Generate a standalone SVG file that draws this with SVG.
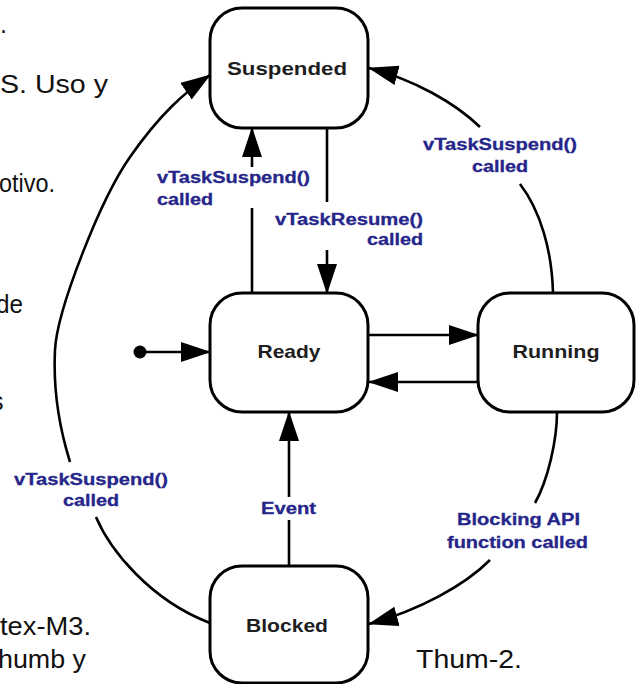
<svg xmlns="http://www.w3.org/2000/svg" width="636" height="684" viewBox="0 0 636 684">
  <style>
    .bg { font-family: "Liberation Sans", Arial, sans-serif; font-size: 25px; fill: #111; }
    .state rect { fill: #fff; stroke: #000; stroke-width: 3; }
    .state text { font-family: "Liberation Sans", Arial, sans-serif; font-weight: bold; font-size: 19px; fill: #1e1e1e; text-anchor: middle; }
    .edge { fill: none; stroke: #000; stroke-width: 2.6; }
    .lbl { font-family: "Liberation Sans", Arial, sans-serif; font-weight: bold; font-size: 16px; fill: #26268a; stroke: #26268a; stroke-width: 0.3; }
  </style>
  <defs>
    <marker id="head" markerUnits="userSpaceOnUse" markerWidth="32" markerHeight="22" refX="29" refY="10" orient="auto">
      <path d="M0,0 L30,10 L0,20 z" fill="#000"/>
    </marker>
  </defs>

  <rect width="636" height="684" fill="#fff"/>

  <!-- slide text behind the diagram -->
  <g id="slide-text">
    <text class="bg" x="0" y="33">.</text>
    <text class="bg" x="0" y="93" textLength="108" lengthAdjust="spacingAndGlyphs">S. Uso y</text>
    <text class="bg" x="-1" y="192" textLength="56" lengthAdjust="spacingAndGlyphs">otivo.</text>
    <text class="bg" x="-4" y="313" textLength="27" lengthAdjust="spacingAndGlyphs">de</text>
    <text class="bg" x="-9" y="410">s</text>
    <text class="bg" x="0" y="635" textLength="91" lengthAdjust="spacingAndGlyphs">tex-M3.</text>
    <text class="bg" x="-2" y="668" textLength="88" lengthAdjust="spacingAndGlyphs">humb y</text>
    <text class="bg" x="416" y="668" textLength="106" lengthAdjust="spacingAndGlyphs">Thum-2.</text>
  </g>

  <!-- transitions -->
  <g id="connectors">
    <!-- initial pseudo-state -->
    <circle cx="140" cy="352" r="6.5" fill="#000"/>
    <path class="edge" d="M140,352 L210,352" marker-end="url(#head)"/>

    <!-- Ready <-> Running -->
    <path class="edge" d="M369,335 L478,335" marker-end="url(#head)"/>
    <path class="edge" d="M478,382 L369,382" marker-end="url(#head)"/>

    <!-- Ready -> Suspended -->
    <path class="edge" d="M252,293 L252,208"/>
    <path class="edge" d="M252,167 L252,128" marker-end="url(#head)"/>
    <text class="lbl" x="157" y="183" textLength="153" lengthAdjust="spacingAndGlyphs">vTaskSuspend()</text>
    <text class="lbl" x="157" y="205" textLength="56" lengthAdjust="spacingAndGlyphs">called</text>

    <!-- Suspended -> Ready -->
    <path class="edge" d="M327,128 L327,202"/>
    <path class="edge" d="M327,250 L327,293" marker-end="url(#head)"/>
    <text class="lbl" x="275" y="225" textLength="148" lengthAdjust="spacingAndGlyphs">vTaskResume()</text>
    <text class="lbl" x="367" y="245" textLength="56" lengthAdjust="spacingAndGlyphs">called</text>

    <!-- Running -> Suspended -->
    <path class="edge" d="M553,293 C552,250 540,210 520,184"/>
    <path class="edge" d="M480,127 C455,103 415,80 369,68" marker-end="url(#head)"/>
    <text class="lbl" x="423" y="150" textLength="154" lengthAdjust="spacingAndGlyphs">vTaskSuspend()</text>
    <text class="lbl" x="472" y="172" textLength="56" lengthAdjust="spacingAndGlyphs">called</text>

    <!-- Running -> Blocked -->
    <path class="edge" d="M557,412 C557,440 548,480 535,503"/>
    <path class="edge" d="M490,560 C465,585 420,610 369,624" marker-end="url(#head)"/>
    <text class="lbl" x="457" y="525" textLength="123" lengthAdjust="spacingAndGlyphs">Blocking API</text>
    <text class="lbl" x="447" y="548" textLength="141" lengthAdjust="spacingAndGlyphs">function called</text>

    <!-- Blocked -> Ready -->
    <path class="edge" d="M289,566 L289,520"/>
    <path class="edge" d="M289,497 L289,412" marker-end="url(#head)"/>
    <text class="lbl" x="261" y="514" textLength="55" lengthAdjust="spacingAndGlyphs">Event</text>

    <!-- Blocked -> Suspended -->
    <path class="edge" d="M210,623 C150,600 110,550 96,517"/>
    <path class="edge" d="M70,462 C60,430 53,390 55,350 C57,310 100,200 130,157 C160,114 185,92 210,75" marker-end="url(#head)"/>
    <text class="lbl" x="14" y="485" textLength="154" lengthAdjust="spacingAndGlyphs">vTaskSuspend()</text>
    <text class="lbl" x="63" y="506" textLength="56" lengthAdjust="spacingAndGlyphs">called</text>
  </g>

  <!-- states -->
  <g id="suspended" class="state">
    <rect x="210" y="8" width="158" height="120" rx="32"/>
    <text x="287" y="75" textLength="120" lengthAdjust="spacingAndGlyphs">Suspended</text>
  </g>
  <g id="ready" class="state">
    <rect x="210" y="293" width="158" height="119" rx="32"/>
    <text x="289" y="358" textLength="63" lengthAdjust="spacingAndGlyphs">Ready</text>
  </g>
  <g id="running" class="state">
    <rect x="478" y="293" width="156" height="119" rx="32"/>
    <text x="556" y="358" textLength="87" lengthAdjust="spacingAndGlyphs">Running</text>
  </g>
  <g id="blocked" class="state">
    <rect x="210" y="566" width="158" height="117" rx="32"/>
    <text x="287" y="632" textLength="82" lengthAdjust="spacingAndGlyphs">Blocked</text>
  </g>
</svg>
